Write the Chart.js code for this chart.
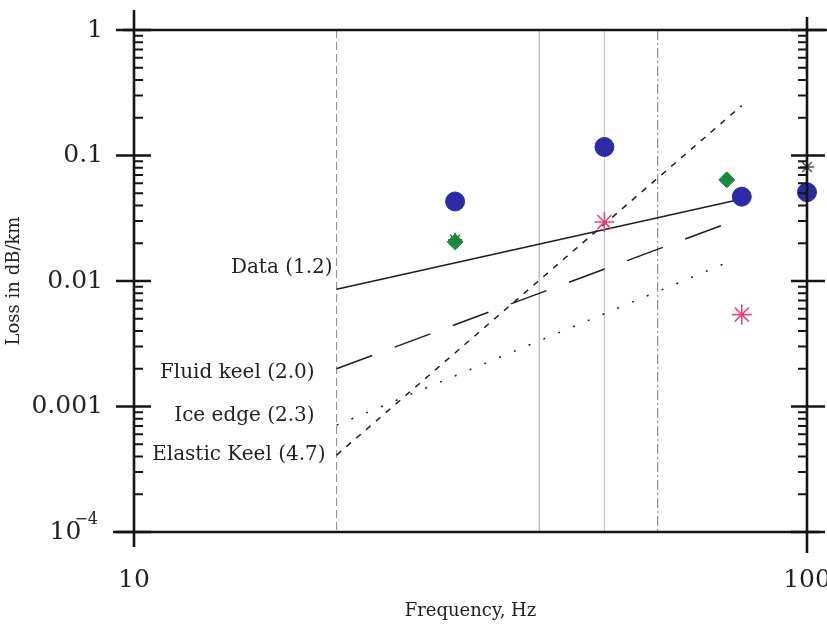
<!DOCTYPE html>
<html>
<head>
<meta charset="utf-8">
<script src="https://cdn.jsdelivr.net/npm/chart.js@4.4.1/dist/chart.umd.min.js"></script>
<style>
  html, body { margin: 0; padding: 0; background: #fff; }
  #wrap { width: 827px; height: 625px; }
</style>
</head>
<body>
<div id="wrap"><canvas id="lossChart" width="827" height="625"></canvas></div>
<script>
// measured points
const circleFreq = [30, 50, 80, 100];
const circleLoss = [0.043, 0.117, 0.047, 0.051];
const diamondFreq = [30, 76];
const diamondLoss = [0.0205, 0.064];
const pinkStarFreq = [50, 80];
const pinkStarLoss = [0.0295, 0.0054];
const greyStarFreq = [30, 100];
const greyStarLoss = [0.0213, 0.081];

// power-law fits
const fitFreq = [20, 80];
const dataFit = [0.0086, 0.045];
const fluidKeel = [0.0020, 0.0318];
const iceEdgeFreq = [20, 77];
const iceEdge = [0.00071, 0.0144];
const elasticKeel = [0.00041, 0.25];
const fitLabels = ['Data (1.2)', 'Fluid keel (2.0)', 'Ice edge (2.3)', 'Elastic Keel (4.7)'];

// axes
const gridFreq = [20, 40, 50, 60];
const xTickValues = [10, 100];
const yTickValues = [1e-4, 1e-3, 1e-2, 1e-1, 1];
const yTickText = ['10^-4', '0.001', '0.01', '0.1', '1'];

const FONT = "'DejaVu Serif', serif";
const INK = '#151515';
const pts = (xs, ys) => xs.map((x, i) => ({ x, y: ys[i] }));
const sameLog = (a, b) => Math.abs(Math.log10(a) - Math.log10(b)) < 1e-6;

// label offsets from the start of each fit line
const labelDx = [-4, -22, -22, -11];
const labelDy = [-21, 4, -9, 0];
const gridDash = [[8, 4], [], [], [10, 3, 2, 3]];
const gridColor = ['#8a8a8a', '#a0a0a0', '#c4c4c4', '#7a7a7a'];

const framePlugin = {
  id: 'frame',
  beforeDatasetsDraw(chart) {
    const { ctx, chartArea: a, scales: { x } } = chart;
    ctx.save();
    ctx.lineWidth = 1;
    gridFreq.forEach((f, i) => {
      const px = x.getPixelForValue(f);
      ctx.strokeStyle = gridColor[i];
      ctx.setLineDash(gridDash[i]);
      ctx.beginPath();
      ctx.moveTo(px, a.top);
      ctx.lineTo(px, a.bottom);
      ctx.stroke();
    });
    ctx.restore();
  },
  afterDatasetsDraw(chart) {
    const { ctx, chartArea: a, scales: { x, y } } = chart;
    ctx.save();
    ctx.strokeStyle = INK;
    ctx.lineCap = 'butt';

    // box
    ctx.lineWidth = 2.6;
    ctx.beginPath();
    ctx.moveTo(a.left - 11, a.top); ctx.lineTo(chart.width, a.top);
    ctx.moveTo(a.left - 21, a.bottom); ctx.lineTo(a.right + 13, a.bottom);
    ctx.moveTo(a.left, a.top - 20); ctx.lineTo(a.left, a.bottom + 15);
    ctx.moveTo(a.right, a.top - 13); ctx.lineTo(a.right, a.bottom + 21);
    ctx.stroke();

    // y ticks on both sides
    y.ticks.forEach(t => {
      const py = y.getPixelForValue(t.value);
      const major = yTickValues.some(v => sameLog(v, t.value));
      ctx.lineWidth = major ? 2.4 : 2;
      ctx.beginPath();
      if (major) {
        ctx.moveTo(a.left - 18, py); ctx.lineTo(a.left + 17, py);
        ctx.moveTo(a.right - 16, py); ctx.lineTo(a.right + 18, py);
      } else {
        ctx.moveTo(a.left, py); ctx.lineTo(a.left + 9, py);
        ctx.moveTo(a.right - 9, py); ctx.lineTo(a.right, py);
      }
      ctx.stroke();
    });

    // tick labels
    ctx.fillStyle = '#222';
    ctx.textBaseline = 'middle';
    ctx.font = '25px ' + FONT;
    ctx.textAlign = 'center';
    xTickValues.forEach(v => ctx.fillText(String(v), x.getPixelForValue(v), a.bottom + 48));
    ctx.textAlign = 'right';
    yTickValues.forEach((v, i) => {
      const py = y.getPixelForValue(v);
      const [base, sup] = yTickText[i].split('^');
      let rx = a.left - 31;
      if (sup) {
        rx -= 5;
        ctx.font = '16px ' + FONT;
        ctx.fillText(sup.replace('-', '\u2212'), rx, py - 12);
        rx -= ctx.measureText(sup).width + 1;
        ctx.font = '25px ' + FONT;
      }
      ctx.fillText(base, rx, py);
    });

    // fit labels
    ctx.font = '20px ' + FONT;
    const starts = [dataFit[0], fluidKeel[0], iceEdge[0], elasticKeel[0]];
    const startF = [fitFreq[0], fitFreq[0], iceEdgeFreq[0], fitFreq[0]];
    fitLabels.forEach((txt, i) => {
      const px = x.getPixelForValue(startF[i]) + labelDx[i];
      const py = y.getPixelForValue(starts[i]) + labelDy[i];
      ctx.fillText(txt, px, py);
    });
    ctx.restore();
  }
};

const fitLine = (data, dash) => ({
  data, showLine: true, borderColor: '#1e1e1e', borderWidth: 1.5,
  borderDash: dash, pointRadius: 0, clip: false, fill: false
});

new Chart(document.getElementById('lossChart'), {
  type: 'scatter',
  data: {
    datasets: [
      { data: pts(circleFreq, circleLoss), pointStyle: 'circle', pointRadius: 9.5,
        backgroundColor: '#2b2ba8', borderColor: '#2b2ba8', borderWidth: 1, clip: false },
      { data: pts(pinkStarFreq, pinkStarLoss), pointStyle: 'star', pointRadius: 10,
        borderColor: '#e5457c', backgroundColor: '#e5457c', borderWidth: 1.6, clip: false },
      { data: pts(diamondFreq, diamondLoss), pointStyle: 'rectRot', pointRadius: 8,
        backgroundColor: '#1a8a3e', borderColor: '#1a8a3e', borderWidth: 1, clip: false },
      { data: pts(greyStarFreq, greyStarLoss), pointStyle: 'star', pointRadius: 7,
        borderColor: '#555', backgroundColor: '#555', borderWidth: 1.5, clip: false },
      fitLine(pts(fitFreq, dataFit), []),
      fitLine(pts(fitFreq, fluidKeel), [38, 24]),
      fitLine(pts(iceEdgeFreq, iceEdge), [2, 14]),
      fitLine(pts(fitFreq, elasticKeel), [6, 7])
    ]
  },
  options: {
    responsive: false,
    animation: false,
    devicePixelRatio: 1,
    layout: { autoPadding: false, padding: { top: 30, right: 20, left: 0, bottom: 0 } },
    plugins: { legend: { display: false }, tooltip: { enabled: false } },
    scales: {
      x: {
        type: 'logarithmic', min: 10, max: 100,
        grid: { display: false, drawTicks: false },
        border: { display: false },
        ticks: { display: false },
        afterFit: s => { s.height = 93; },
        title: {
          display: true, text: 'Frequency, Hz', color: '#222',
          font: { family: FONT, size: 18 }, padding: { top: 0, bottom: 3 }
        }
      },
      y: {
        type: 'logarithmic', min: 1e-4, max: 1,
        grid: { display: false, drawTicks: false },
        border: { display: false },
        ticks: { display: false },
        afterBuildTicks: s => {
          const list = [];
          yTickValues.forEach((d, i) => {
            list.push({ value: d });
            if (i < yTickValues.length - 1) {
              for (let m = 2; m < 10; m++) list.push({ value: d * m });
            }
          });
          s.ticks = list;
        },
        afterFit: s => { s.width = 134; },
        title: {
          display: true, text: 'Loss in dB/km', color: '#222',
          font: { family: FONT, size: 18 }, padding: { top: 4, bottom: 0 }
        }
      }
    }
  },
  plugins: [framePlugin]
});
</script>
</body>
</html>
